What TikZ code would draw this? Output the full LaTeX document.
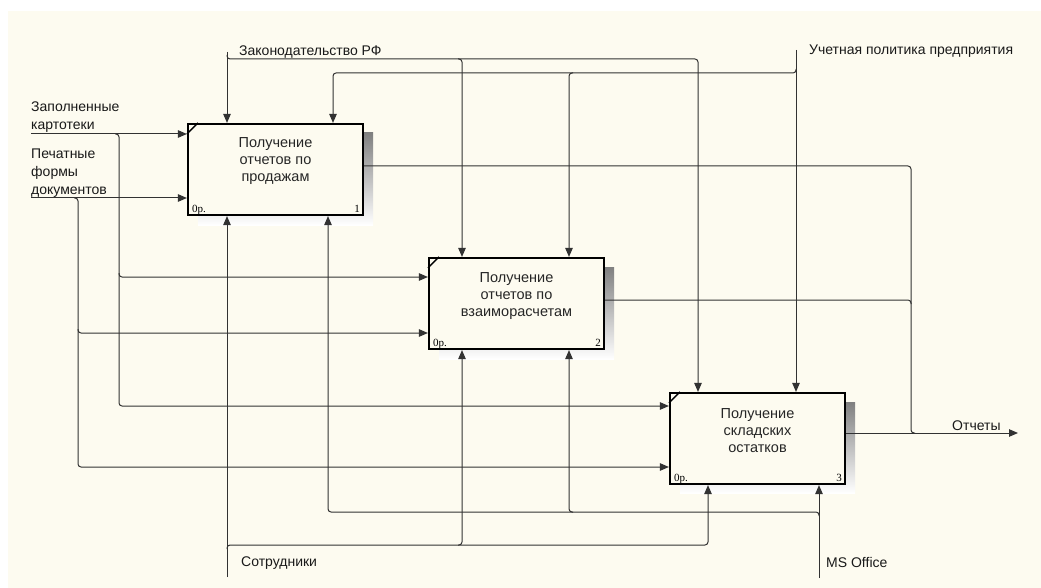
\documentclass[tikz,border=0pt]{standalone}
\usepackage{fontspec}
\setmainfont{Liberation Sans}
\newfontfamily\numfont{Liberation Serif}
\usetikzlibrary{arrows.meta,calc}
\definecolor{paper}{RGB}{253,251,240}
\definecolor{wire}{RGB}{50,50,50}
\definecolor{shade}{RGB}{168,168,168}

\begin{document}
\begin{tikzpicture}[x=1pt,y=-1pt,
  link/.style={draw=wire,line width=1pt,rounded corners=3pt},
  arr/.style={link,-{Triangle[length=9pt,width=7.5pt]}},
  procbox/.style={draw=black,line width=2.2pt,fill=paper,minimum width=175pt,minimum height=91pt,inner sep=0pt},
  boxtext/.style={align=center,font=\fontsize{14.5}{17}\selectfont,text=black!85,inner sep=0pt},
  lbl/.style={font=\fontsize{14}{18}\selectfont,inner sep=0pt,text=black!90},
  tag/.style={font=\numfont\fontsize{11}{11}\selectfont,inner sep=0pt},
  corner/.style={line width=1.4pt}]

\useasboundingbox (0,0) rectangle (1041,588);
\fill[white] (0,0) rectangle (1041,588);
\fill[paper] (8,11) rectangle (1041,588);

% ---- activity boxes with drop shadows ----
\fill[shade] (198,133) rectangle (373,225);
\node[procbox] (b1) at (275.5,169.5) {};
\draw[corner] ($(b1.north west)+(0,11)$) -- ($(b1.north west)+(11,0)$);
\node[boxtext] (b1t) at ($(b1.center)+(0,-8)$) {Получение\\отчетов по\\продажам};
\node[tag,anchor=base west] (b1r) at ($(b1.south west)+(5,-4)$) {0p.};
\node[tag,anchor=base east] (b1n) at ($(b1.south east)+(-4,-4)$) {1};

\fill[shade] (439,267) rectangle (614,359);
\node[procbox] (b2) at (516.5,303.5) {};
\draw[corner] ($(b2.north west)+(0,11)$) -- ($(b2.north west)+(11,0)$);
\node[boxtext] (b2t) at ($(b2.center)+(0,-7)$) {Получение\\отчетов по\\взаиморасчетам};
\node[tag,anchor=base west] (b2r) at ($(b2.south west)+(5,-4)$) {0p.};
\node[tag,anchor=base east] (b2n) at ($(b2.south east)+(-4,-4)$) {2};

\fill[shade] (680,402) rectangle (855,493);
\node[procbox] (b3) at (757.5,438.5) {};
\draw[corner] ($(b3.north west)+(0,11)$) -- ($(b3.north west)+(11,0)$);
\node[boxtext] (b3t) at ($(b3.center)+(0,-7.5)$) {Получение\\складских\\остатков};
\node[tag,anchor=base west] (b3r) at ($(b3.south west)+(5,-4)$) {0p.};
\node[tag,anchor=base east] (b3n) at ($(b3.south east)+(-4,-4)$) {3};

% ---- inputs ----
\coordinate (in1) at (31,134);
\coordinate (in2) at (31,198);
\coordinate (k1) at (119,134);
\coordinate (k1b) at (119,277);
\coordinate (k2) at (78,198);
\coordinate (k2b) at (78,333);
\draw[arr] (in1) -- (in1 -| b1.west);
\draw[arr] (in2) -- (in2 -| b1.west);
\draw[arr] ([xshift=-4pt]k1) -- (k1) |- (b3.west |- 0,406);
\draw[arr] ([yshift=4pt]k1b) -- (k1b) -- (k1b -| b2.west);
\draw[arr] ([xshift=-4pt]k2) -- (k2) |- (b3.west |- 0,467);
\draw[arr] ([yshift=4pt]k2b) -- (k2b) -- (k2b -| b2.west);

% ---- controls ----
\coordinate (law) at (227,52);
\coordinate (lawh) at (227,59);
\coordinate (lawj) at (462,59);
\draw[arr] (law) -- (law |- b1.north);
\draw[arr] ([yshift=4pt]lawh) -- (lawh) -| (b3.north -| 698,0);
\draw[arr] ([xshift=-4pt]lawj) -- (lawj) -- (lawj |- b2.north);

\coordinate (pol) at (796,50);
\coordinate (polh) at (796,73);
\coordinate (polj) at (569,73);
\draw[arr] (pol) -- (pol |- b3.north);
\draw[arr] ([yshift=4pt]polh) -- (polh) -| (b1.north -| 333,0);
\draw[arr] ([xshift=4pt]polj) -- (polj) -- (polj |- b2.north);

% ---- outputs ----
\coordinate (o1) at (b1.east |- 0,166);
\coordinate (o2) at (b2.east |- 0,300);
\coordinate (o3) at (b3.east |- 0,433);
\coordinate (om) at (911,433);
\coordinate (om2) at (911,300);
\coordinate (out) at (1018,433);
\draw[link] (o1) -| (om) -- ([xshift=4pt]om);
\draw[link] (o2) -- (om2) -- ([yshift=-4pt]om2);
\draw[arr] (o3) -- (out);

% ---- mechanisms ----
\coordinate (staff) at (227,577);
\coordinate (staffh) at (227,545);
\coordinate (staffj) at (462,545);
\draw[arr] (staff) -- (staff |- b1.south);
\draw[arr] ([yshift=-4pt]staffh) -- (staffh) -| (b3.south -| 708,0);
\draw[arr] ([xshift=-4pt]staffj) -- (staffj) -- (staffj |- b2.south);

\coordinate (ms) at (819,578);
\coordinate (msh) at (819,512);
\coordinate (msj) at (569,512);
\draw[arr] (ms) -- (ms |- b3.south);
\draw[arr] ([yshift=-4pt]msh) -- (msh) -| (b1.south -| 328,0);
\draw[arr] ([xshift=4pt]msj) -- (msj) -- (msj |- b2.south);

% ---- arrow labels ----
\node[lbl,anchor=base west] (tlaw) at (239,56) {Законодательство РФ};
\node[lbl,anchor=base west] (tpol) at (809,55) {Учетная политика предприятия};
\node[lbl,anchor=north west,align=left] (tin1) at (31,102) {Заполненные\\картотеки};
\node[lbl,anchor=north west,align=left] (tin2) at (31,149) {Печатные\\формы\\документов};
\node[lbl,anchor=base west] (tout) at (952,430) {Отчеты};
\node[lbl,anchor=base west] (tstaff) at (241,566) {Сотрудники};
\node[lbl,anchor=base west] (tms) at (826,567) {MS Office};
\end{tikzpicture}
\end{document}
